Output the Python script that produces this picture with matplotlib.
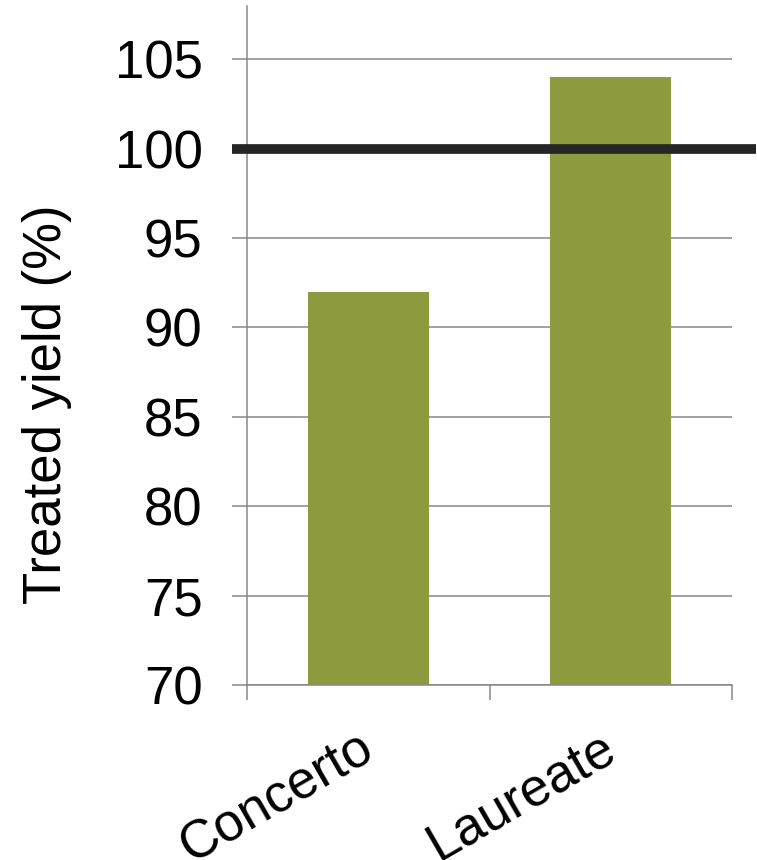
import matplotlib.pyplot as plt
from matplotlib.ticker import FixedLocator
import matplotlib.transforms as mtransforms

# datos del grafico
variedades = ["Concerto", "Laureate"]
rendimiento = [92, 104]
referencia = 100
y_ticks = [70, 75, 80, 85, 90, 95, 100, 105]

plt.rcParams['font.family'] = ['Liberation Sans', 'DejaVu Sans']
GRIS = "#878787"
TAM = 38

fig = plt.figure(figsize=(7.57, 8.6), dpi=100)
ax = fig.add_axes([0.3263, 0.2035, 0.6408, 0.79])

x = list(range(len(variedades)))
ax.bar(x, rendimiento, width=0.5, color="#8E9A3E", zorder=2)

# linea de referencia (100 %), sale un poco fuera del eje
ax.axhline(referencia, xmin=-0.03, xmax=1.05, color="#262626", linewidth=7,
           clip_on=False, zorder=3, solid_capstyle="butt")

ax.set_xlim(-0.5, len(variedades) - 0.5)
ax.set_ylim(70, 108)
ax.set_yticks(y_ticks)
ax.yaxis.grid(True, color=GRIS, linewidth=1.1, zorder=0)
ax.set_axisbelow(True)

# marcas del eje x en los limites de categoria
ax.set_xticks(x)
ax.set_xticklabels(variedades, rotation=30, ha="right", va="top",
                   rotation_mode="anchor", fontsize=TAM)
ax.xaxis.set_minor_locator(FixedLocator([-0.5, 0.5, 1.5]))
ax.tick_params(axis="x", which="major", length=0, pad=27)
ax.tick_params(axis="x", which="minor", length=11, width=1.1, color=GRIS)
ax.tick_params(axis="y", length=11, width=1.1, color=GRIS, labelsize=TAM, pad=21)

for lado in ["top", "right"]:
    ax.spines[lado].set_visible(False)
for lado in ["left", "bottom"]:
    ax.spines[lado].set_color(GRIS)
    ax.spines[lado].set_linewidth(1.1)

ax.set_ylabel("Treated yield (%)", fontsize=TAM)
ax.yaxis.set_label_coords(-0.36, 0.4135)

# corrimiento horizontal de las etiquetas rotadas
fig.canvas.draw()
desplazamiento = mtransforms.ScaledTranslation(-0.11, 0, fig.dpi_scale_trans)
for tick in ax.xaxis.get_major_ticks():
    tick.label1.set_transform(tick.label1.get_transform() + desplazamiento)

fig.savefig("out.png", dpi=100)
